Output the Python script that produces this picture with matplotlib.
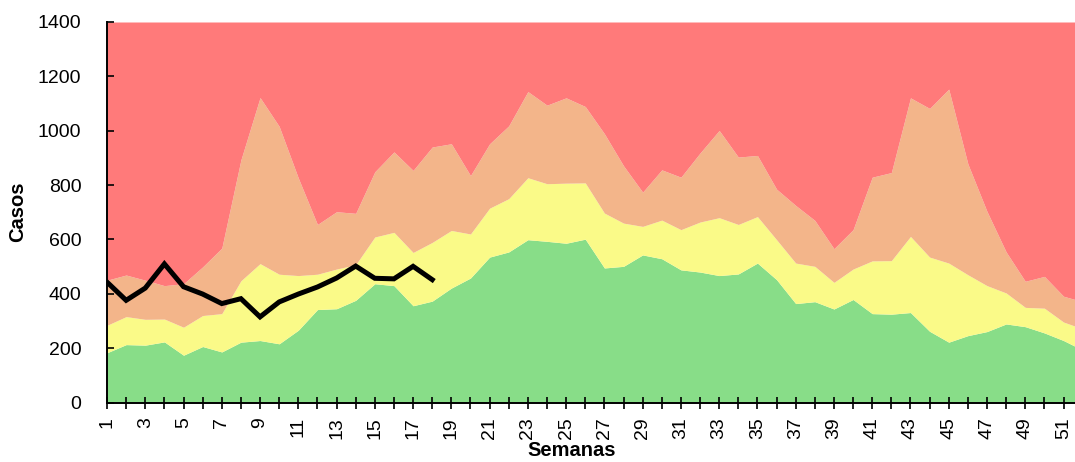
import matplotlib
matplotlib.use("Agg")
import matplotlib.pyplot as plt
import numpy as np

weeks = list(range(1, 53))
# cumulative upper limits of each zone
green_top = [183, 213, 211, 223, 174, 206, 186, 222, 228, 216,
             266, 342, 345, 376, 437, 430, 356, 373, 421, 458,
             535, 554, 599, 593, 586, 601, 495, 501, 543, 529,
             488, 480, 467, 473, 513, 452, 364, 371, 344, 379,
             327, 325, 331, 262, 222, 246, 261, 289, 279, 256,
             228, 193]
yellow_top = [284, 316, 306, 307, 277, 320, 327, 448, 511, 472,
              467, 472, 491, 507, 609, 626, 552, 589, 633, 620,
              715, 750, 827, 805, 807, 808, 697, 660, 648, 671,
              636, 664, 680, 655, 684, 599, 513, 501, 442, 491,
              521, 522, 611, 535, 513, 470, 430, 403, 350, 347,
              296, 271]
orange_top = [450, 469, 450, 430, 437, 499, 568, 893, 1122, 1016,
              826, 655, 702, 696, 849, 922, 854, 940, 952, 835,
              952, 1018, 1144, 1094, 1121, 1089, 989, 871, 774, 856,
              829, 918, 1001, 903, 909, 785, 725, 670, 566, 636,
              829, 846, 1121, 1082, 1153, 878, 703, 554, 446, 464,
              391, 371]
y_max = 1400
case_weeks = list(range(1, 19))
cases = [443, 376, 421, 510, 426, 399, 364, 382, 315, 370,
         399, 425, 458, 502, 457, 455, 501, 452]

c_green = "#88DD88"
c_yellow = "#FAFA88"
c_orange = "#F3B58A"
c_red = "#FF7A7A"

W, H = 1075, 462
fig = plt.figure(figsize=(W/100, H/100), dpi=100)
ax = fig.add_axes([107/W, (H-402.5)/H, 1 - 107/W, (402.5-22)/H])

w = np.array(weeks)
ax.fill_between(w, 0, green_top, color=c_green, lw=0)
ax.fill_between(w, green_top, yellow_top, color=c_yellow, lw=0)
ax.fill_between(w, yellow_top, orange_top, color=c_orange, lw=0)
ax.fill_between(w, orange_top, y_max, color=c_red, lw=0)
ax.plot(case_weeks, cases, color="black", lw=3.6, solid_joinstyle="miter", zorder=5)

ax.set_xlim(1, 51.6)
ax.set_ylim(0, y_max)
ax.set_yticks(range(0, 1401, 200))
ax.set_xticks(range(1, 52))
ax.set_xticklabels([str(k) if k % 2 == 1 else "" for k in range(1, 52)], rotation=90)

font = "Liberation Sans"
for lab in ax.get_xticklabels() + ax.get_yticklabels():
    lab.set_fontfamily(font)
    lab.set_fontsize(14)
ax.tick_params(axis="y", direction="in", length=5, width=1.2, color="black", pad=18.5)
ax.tick_params(axis="x", direction="inout", length=8, width=1.2, color="black", pad=6.5)

for s in ["top", "right"]:
    ax.spines[s].set_visible(False)
for s in ["left", "bottom"]:
    ax.spines[s].set_color("black")
    ax.spines[s].set_linewidth(1.4)

fig.text(18/W, 1 - 212/H, "Casos", rotation=90, ha="center", va="center",
         fontfamily=font, fontsize=14.5, fontweight="bold")
fig.text(572/W, 1 - 451/H, "Semanas", ha="center", va="center",
         fontfamily=font, fontsize=14.5, fontweight="bold")

fig.savefig("out.png", dpi=100)
